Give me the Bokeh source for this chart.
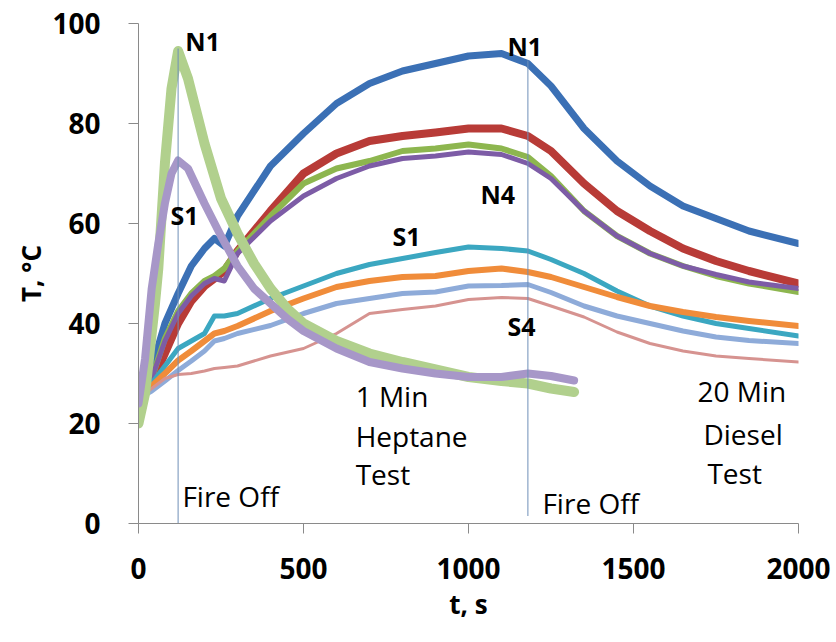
from bokeh.plotting import figure
from bokeh.models import Range1d, FixedTicker
from bokeh.core.properties import value
from bokeh.embed import file_html
from bokeh.resources import INLINE

# ---- data ----
t_diesel = [0, 40, 80, 120, 160, 200, 230, 260, 300, 400, 500, 600, 700, 800,
            900, 1000, 1100, 1180, 1250, 1350, 1450, 1550, 1650, 1750, 1850, 2000]
diesel_N1 = [25, 31, 40, 46, 51.5, 55, 57, 55.5, 61.5, 71.5, 78, 84, 88, 90.5,
             92, 93.5, 94, 92, 87.5, 79, 72.5, 67.5, 63.5, 61, 58.5, 56]
diesel_N2 = [25, 28, 34, 40, 44.5, 47.5, 49, 50.5, 54.5, 62.5, 70, 74, 76.5, 77.5,
             78.2, 79, 79, 77.5, 74.5, 68, 62.5, 58.5, 55, 52.5, 50.5, 48]
diesel_N3 = [25, 29, 37, 42.5, 46, 48.5, 49.5, 51, 54.5, 61.5, 68, 71, 72.5, 74.5,
             75, 75.8, 75, 73.3, 69.5, 62.5, 57.5, 54, 51.5, 49.5, 48, 46.3]
diesel_N4 = [24.5, 29, 36.5, 42, 45.5, 48, 49, 48.5, 54, 60.5, 65.5, 69, 71.5, 73,
             73.5, 74.3, 73.8, 72, 69, 62.5, 57.5, 54, 51.5, 49.8, 48.3, 47]
diesel_S1 = [25, 28, 31.5, 35, 36.5, 38, 41.5, 41.5, 42, 45, 47.5, 50, 51.8, 53,
             54.2, 55.3, 55, 54.5, 52.8, 50, 46.5, 43.5, 41.5, 40, 39, 37.5]
diesel_S2 = [26, 27.5, 30, 32.6, 34.5, 36.5, 38, 38.5, 39.5, 42.5, 45, 47.3, 48.5, 49.3,
             49.5, 50.5, 51, 50.3, 49.3, 47.3, 45.3, 43.5, 42.3, 41.3, 40.5, 39.5]
diesel_S3 = [25, 26.5, 28.5, 30.6, 32.5, 34.5, 36.5, 37, 38, 39.6, 42, 44, 45, 46,
             46.3, 47.5, 47.6, 47.8, 46.2, 43.5, 41.5, 40, 38.5, 37.3, 36.6, 36]
diesel_S4 = [25, 27, 29, 29.8, 30, 30.5, 31, 31.2, 31.5, 33.5, 35, 38, 42, 42.8,
             43.5, 44.8, 45.2, 45, 43.5, 41.3, 38.3, 36, 34.5, 33.5, 33, 32.3]

t_heptane = [0, 20, 40, 50, 60, 80, 100, 120, 150, 200, 250, 300, 350, 400, 450,
             500, 600, 700, 800, 900, 1000, 1100, 1180, 1250, 1320]
heptane_N1 = [20, 26, 38, 44, 51, 72, 87, 94.5, 89, 76, 65, 58, 52, 47, 43,
              40, 36.5, 34, 32.3, 30.8, 29.3, 28.5, 28, 27, 26.3]
heptane_S1 = [24, 33, 47, 51.5, 56, 64, 70, 72.6, 71, 64, 57.5, 51.5, 47, 44, 41,
              38.5, 35, 32.3, 31, 30, 29.3, 29.3, 30, 29.5, 28.6]

fire_off_t = [120, 1180]
fire_off_top = [95, 92.6]
fire_off_bottom = [-1, 1.5]

x_ticks = [0, 500, 1000, 1500, 2000]
y_ticks = [0, 20, 40, 60, 80, 100]

bold_labels = ["N1", "S1", "N1", "N4", "S1", "S4"]
bold_x = [142, 97, 1118, 1036, 770, 1118]
bold_y = [96.6, 61.8, 95.6, 66, 57.6, 39.6]

note_labels = ["1 Min", "Heptane", "Test", "20 Min", "Diesel", "Test", "Fire Off", "Fire Off"]
note_x = [658, 658, 658, 1694, 1712, 1724, 133, 1224]
note_y = [25.6, 17.6, 10, 26.6, 18, 10.2, 5.6, 4.2]

# ---- figure ----
p = figure(width=836, height=640, output_backend="svg", toolbar_location=None,
           x_range=Range1d(0, 2000), y_range=Range1d(0, 100),
           min_border_left=138, min_border_right=38, min_border_top=23,
           min_border_bottom=117)
p.outline_line_color = None
p.xgrid.visible = False
p.ygrid.visible = False
p.background_fill_color = "white"

FONT = "Open Sans"
for ax in (p.xaxis[0], p.yaxis[0]):
    ax.axis_line_color = "#8a8a8a"
    ax.major_tick_line_color = "#8a8a8a"
    ax.minor_tick_line_color = None
    ax.major_tick_out = 10
    ax.major_tick_in = 0
    ax.major_label_text_font = FONT
    ax.major_label_text_font_style = "bold"
    ax.major_label_text_font_size = "28px"
    ax.major_label_text_color = "black"
    ax.axis_label_text_font = FONT
    ax.axis_label_text_font_style = "bold"
    ax.axis_label_text_font_size = "26px"
    ax.axis_label_text_color = "black"

p.xaxis.ticker = FixedTicker(ticks=x_ticks)
p.yaxis.ticker = FixedTicker(ticks=y_ticks)
p.xaxis.axis_label = "t, s"
p.yaxis.axis_label = "T, °C"
p.xaxis.major_label_standoff = 24
p.yaxis.major_label_standoff = 28
p.xaxis.axis_label_standoff = 4
p.yaxis.axis_label_standoff = 0

series = [
    (diesel_N1, "#3b70b5", 7),
    (diesel_N2, "#b83b37", 8),
    (diesel_N3, "#8db64f", 6),
    (diesel_N4, "#7d5ca6", 5),
    (diesel_S1, "#3ba7c1", 5),
    (diesel_S2, "#f08c3a", 6),
    (diesel_S3, "#8eabd9", 5),
    (diesel_S4, "#d69390", 3),
]
for ys, col, w in series:
    p.line(t_diesel, ys, line_color=col, line_width=w, line_join="round", line_cap="round")

p.line(t_heptane, heptane_N1, line_color="#b1d08d", line_width=10, line_join="round", line_cap="round")
p.line(t_heptane, heptane_S1, line_color="#a797c8", line_width=8, line_join="round", line_cap="round")

p.segment(x0=fire_off_t, y0=fire_off_bottom, x1=fire_off_t, y1=fire_off_top,
          line_color="#6f8fb8", line_width=1)

p.text(x=bold_x, y=bold_y, text=bold_labels, text_font=value(FONT),
       text_font_style="bold", text_font_size=value("25px"), text_color="black",
       text_align="left", text_baseline="middle")
p.text(x=note_x, y=note_y, text=note_labels, text_font=value(FONT),
       text_font_size=value("28px"), text_color="black",
       text_align="left", text_baseline="middle")

open("out.html", "w").write(file_html(p, INLINE))
